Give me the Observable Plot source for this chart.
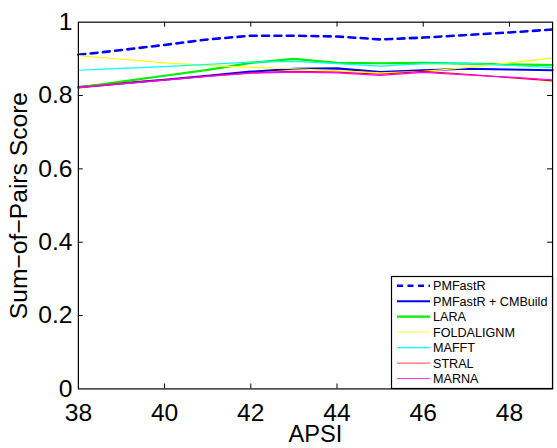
<!DOCTYPE html>
<html>
<head>
<meta charset="utf-8">
<script src="https://cdn.jsdelivr.net/npm/d3@7"></script>
<script src="https://cdn.jsdelivr.net/npm/@observablehq/plot@0.6"></script>
<style>
  html, body { margin: 0; padding: 0; background: white; }
  body { width: 557px; height: 448px; overflow: hidden; position: relative; }
  #chart { position: absolute; left: 0; top: 0; }
  #legend { position: absolute; left: 0; top: 0; pointer-events: none; }
</style>
</head>
<body>
<div id="chart"></div>
<svg id="legend" width="557" height="448"></svg>
<script>
// ---- data ----
const apsi = [38, 39, 40, 41, 42, 43, 44, 45, 46, 47, 48, 49];
const seriesNames = ["PMFastR", "PMFastR + CMBuild", "LARA", "FOLDALIGNM", "MAFFT", "STRAL", "MARNA"];
const pmfastr   = [0.911, 0.924, 0.938, 0.953, 0.963, 0.963, 0.961, 0.953, 0.958, 0.965, 0.972, 0.980];
const cmbuild   = [0.823, 0.833, 0.843, 0.854, 0.865, 0.873, 0.874, 0.864, 0.869, 0.873, 0.871, 0.869];
const lara      = [0.822, 0.838, 0.854, 0.870, 0.889, 0.900, 0.889, 0.888, 0.889, 0.887, 0.885, 0.883];
const foldalign = [0.909, 0.899, 0.889, 0.882, 0.877, 0.873, 0.868, 0.862, 0.866, 0.876, 0.889, 0.902];
const mafft     = [0.869, 0.874, 0.879, 0.885, 0.891, 0.893, 0.887, 0.880, 0.887, 0.888, 0.882, 0.876];
const stral     = [0.822, 0.833, 0.843, 0.853, 0.862, 0.866, 0.864, 0.858, 0.866, 0.858, 0.849, 0.840];
const marna     = [0.821, 0.832, 0.842, 0.852, 0.861, 0.864, 0.862, 0.855, 0.863, 0.856, 0.850, 0.843];
const xTicks = [38, 40, 42, 44, 46, 48];
const yTicks = [0, 0.2, 0.4, 0.6, 0.8, 1];
const xLabel = "APSI";
const yLabel = "Sum\u2212of\u2212Pairs Score";

// ---- styles ----
const seriesValues = [pmfastr, cmbuild, lara, foldalign, mafft, stral, marna];
const colors = ["#0000ff", "#0000ff", "#00ee00", "#ffff00", "#00ffff", "#ff0000", "#ff00ff"];
const widths = [2.6, 2.2, 2.2, 1.2, 1.2, 1.2, 1.2];
const dashes = ["7,5.5", null, null, null, null, null, null];
const legendColors = ["#0000ff", "#0000ff", "#00ee00", "#ffff66", "#00ffff", "#ff6666", "#ff33ff"];

const W = 565, H = 448, mL = 79, mR = 5, mT = 22, mB = 54;
const innerW = W - mL - mR, innerH = H - mT - mB;
const font = "'Liberation Sans', Arial, Helvetica, sans-serif";

const lineMarks = seriesNames.map((name, i) => {
  const rows = apsi.map((x, j) => ({x, y: seriesValues[i][j]}));
  const opts = {x: "x", y: "y", stroke: colors[i], strokeWidth: widths[i], curve: "linear"};
  if (dashes[i]) opts.strokeDasharray = dashes[i];
  return Plot.line(rows, opts);
});

const innerXTicks = xTicks.filter(d => d > 38);
const innerYTicks = yTicks.filter(d => d > 0 && d < 1);

const chart = Plot.plot({
  width: W, height: H,
  marginLeft: mL, marginRight: mR, marginTop: mT, marginBottom: mB,
  x: {domain: [38, 49]},
  y: {domain: [0, 1]},
  style: {fontFamily: font, background: "white", color: "black", overflow: "visible"},
  marks: [
    ...lineMarks,
    Plot.tickX(innerXTicks, {x: d => d, insetTop: innerH - 5, stroke: "black"}),
    Plot.tickX(innerXTicks, {x: d => d, insetBottom: innerH - 5, stroke: "black"}),
    Plot.tickY(innerYTicks, {y: d => d, insetRight: innerW - 5, stroke: "black"}),
    Plot.tickY(innerYTicks, {y: d => d, insetLeft: innerW - 5, stroke: "black"}),
    Plot.frame({stroke: "black", strokeWidth: 1.2}),
    Plot.axisX(xTicks, {tickSize: 0, tickPadding: 15, fontSize: 25, label: null, tickFormat: d => String(d)}),
    Plot.axisY(yTicks, {tickSize: 0, tickPadding: 6, fontSize: 25, label: null, tickFormat: d => String(d)}),
    Plot.text([xLabel], {text: d => d, frameAnchor: "bottom", dy: 46, lineAnchor: "middle", textAnchor: "middle", fontSize: 24, fill: "black"}),
    Plot.text([yLabel], {text: d => d, frameAnchor: "left", dx: -60, rotate: -90, lineAnchor: "middle", textAnchor: "middle", fontSize: 25, fill: "black"})
  ]
});
document.getElementById("chart").appendChild(chart);

// ---- legend (inside plot area, bottom-right) ----
const lg = d3.select("#legend");
const bx = 391.5, by = 276.5, bw = 161, bh = 112;
lg.append("rect").attr("x", bx).attr("y", by).attr("width", bw).attr("height", bh)
  .attr("fill", "white").attr("stroke", "black").attr("stroke-width", 1.2);
const row0 = 285.8, step = 15.45;
seriesNames.forEach((name, i) => {
  const yy = row0 + i * step;
  const ln = lg.append("line").attr("x1", 397).attr("x2", 430).attr("y1", yy).attr("y2", yy)
    .attr("stroke", legendColors[i]).attr("stroke-width", widths[i]);
  if (dashes[i]) ln.attr("stroke-dasharray", "6,4.5");
  lg.append("text").attr("x", 433).attr("y", yy).attr("dy", "0.36em")
    .attr("font-family", font).attr("font-size", 12.6).attr("fill", "black").text(name);
});
</script>
</body>
</html>
